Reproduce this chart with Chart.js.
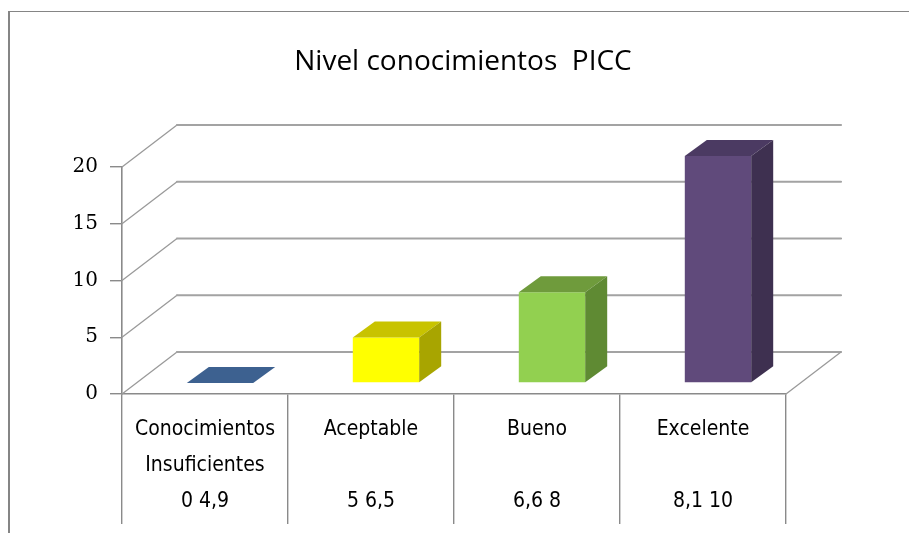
<!DOCTYPE html>
<html>
<head>
<meta charset="utf-8">
<script src="https://cdn.jsdelivr.net/npm/chart.js@4/dist/chart.umd.min.js"></script>
<style>
  html, body { margin: 0; padding: 0; background: #fff; }
  #wrap { width: 909px; height: 533px; }
</style>
</head>
<body>
<div id="wrap"><canvas id="c" width="909" height="533"></canvas></div>
<script>
"use strict";
// data
const categories = [["Conocimientos", "Insuficientes"], "Aceptable", "Bueno", "Excelente"];
const ranges = ["0 4,9", "5 6,5", "6,6 8", "8,1 10"];
const counts = [0, 4, 8, 20];

// face colours per bar: front, top, side
const FRONT = ["#4f81bd", "#ffff00", "#92d050", "#604a7b"];
const TOP   = ["#3d6190", "#c8c300", "#6f9b3c", "#4b3a62"];
const SIDE  = ["#34547d", "#a8a500", "#5f8a33", "#3e3050"];

const WALL = { dx: 55, dy: -42 };   // back wall offset
const BAR  = { dx: 15, dy: -11 };   // bar front plane offset
const DEPTH = { dx: 22, dy: -16 };  // bar depth

const labels = categories.map((c, i) =>
  [...(Array.isArray(c) ? c : [c, ""]), ranges[i]]);

const frame = {
  id: "frame",
  beforeDraw(chart) {
    const ctx = chart.ctx;
    ctx.save();
    ctx.fillStyle = "#fff";
    ctx.fillRect(0, 0, chart.width, chart.height);
    ctx.strokeStyle = "#858585";
    ctx.lineWidth = 2;
    ctx.beginPath(); ctx.moveTo(9, chart.height); ctx.lineTo(9, 11); ctx.stroke();
    ctx.lineWidth = 1;
    ctx.beginPath(); ctx.moveTo(9, 11.5); ctx.lineTo(chart.width, 11.5); ctx.stroke();
    ctx.restore();
  },
};

const box3d = {
  id: "box3d",
  beforeDatasetsDraw(chart) {
    const ctx = chart.ctx, y = chart.scales.y, a = chart.chartArea;
    ctx.save();
    ctx.lineCap = "round";
    // side wall diagonals and back wall gridlines
    for (const t of y.ticks) {
      const py = y.getPixelForValue(t.value);
      ctx.strokeStyle = "#9a9a9a"; ctx.lineWidth = 1.3;
      ctx.beginPath(); ctx.moveTo(a.left, py); ctx.lineTo(a.left + WALL.dx, py + WALL.dy); ctx.stroke();
      ctx.strokeStyle = "#a3a3a3"; ctx.lineWidth = 2.2;
      ctx.beginPath(); ctx.moveTo(a.left + WALL.dx, py + WALL.dy);
      ctx.lineTo(a.right + WALL.dx, py + WALL.dy); ctx.stroke();
    }
    // floor right edge
    ctx.strokeStyle = "#9a9a9a"; ctx.lineWidth = 1.3;
    ctx.beginPath(); ctx.moveTo(a.right, a.bottom);
    ctx.lineTo(a.right + WALL.dx, a.bottom + WALL.dy); ctx.stroke();
    ctx.restore();
    ctx.save();
    ctx.translate(BAR.dx, BAR.dy);
  },
  afterDatasetsDraw(chart) {
    const ctx = chart.ctx;
    chart.getDatasetMeta(0).data.forEach((b, i) => {
      const l = b.x - b.width / 2, r = b.x + b.width / 2;
      // top
      ctx.fillStyle = TOP[i];
      ctx.beginPath();
      ctx.moveTo(l, b.y); ctx.lineTo(r, b.y);
      ctx.lineTo(r + DEPTH.dx, b.y + DEPTH.dy); ctx.lineTo(l + DEPTH.dx, b.y + DEPTH.dy);
      ctx.closePath(); ctx.fill();
      // side
      if (b.base - b.y > 0.5) {
        ctx.fillStyle = SIDE[i];
        ctx.beginPath();
        ctx.moveTo(r, b.y); ctx.lineTo(r + DEPTH.dx, b.y + DEPTH.dy);
        ctx.lineTo(r + DEPTH.dx, b.base + DEPTH.dy); ctx.lineTo(r, b.base);
        ctx.closePath(); ctx.fill();
      }
    });
    ctx.restore();
  },
};

new Chart(document.getElementById("c"), {
  type: "bar",
  data: {
    labels,
    datasets: [{ data: counts, backgroundColor: FRONT, yAxisID: "y",
      barPercentage: 0.4, categoryPercentage: 1.0 }],
  },
  options: {
    responsive: false,
    animation: false,
    layout: { padding: { left: 17, right: 0, top: 0, bottom: 0 } },
    plugins: {
      legend: { display: false },
      tooltip: { enabled: false },
      title: { display: true, text: "Nivel conocimientos  PICC", color: "#000",
        font: { family: "'Open Sans', sans-serif", size: 28, weight: "normal" },
        padding: { top: 45, bottom: 88.4 } },
    },
    scales: {
      x: {
        afterFit: (s) => { s.height = 139; },
        grid: { display: true, offset: true, drawOnChartArea: false, drawTicks: true,
          tickLength: 130, color: "#8a8a8a", lineWidth: 1.4 },
        border: { display: true, color: "#8a8a8a", width: 1.6 },
        ticks: { color: "#000", padding: -112, maxRotation: 0, autoSkip: false,
          font: { family: "'DejaVu Sans Condensed', sans-serif",
            size: 21, lineHeight: "36px" } },
      },
      y: {
        min: 0, max: 20,
        afterFit: (s) => { s.width = 105; },
        grid: { drawOnChartArea: false, drawTicks: true, tickLength: 12,
          color: "#8a8a8a", lineWidth: 1.4 },
        border: { display: true, color: "#8a8a8a", width: 1.6 },
        ticks: { stepSize: 5, color: "#000", padding: 12,
          font: { family: "'DejaVu Serif', serif", size: 20 } },
      },
      // empty right-hand gutter, keeps the plot off the right edge
      gutter: {
        type: "linear", position: "right", display: true,
        afterFit: (s) => { s.width = 123; },
        grid: { display: false }, border: { display: false }, ticks: { display: false },
      },
    },
  },
  plugins: [frame, box3d],
});
</script>
</body>
</html>
